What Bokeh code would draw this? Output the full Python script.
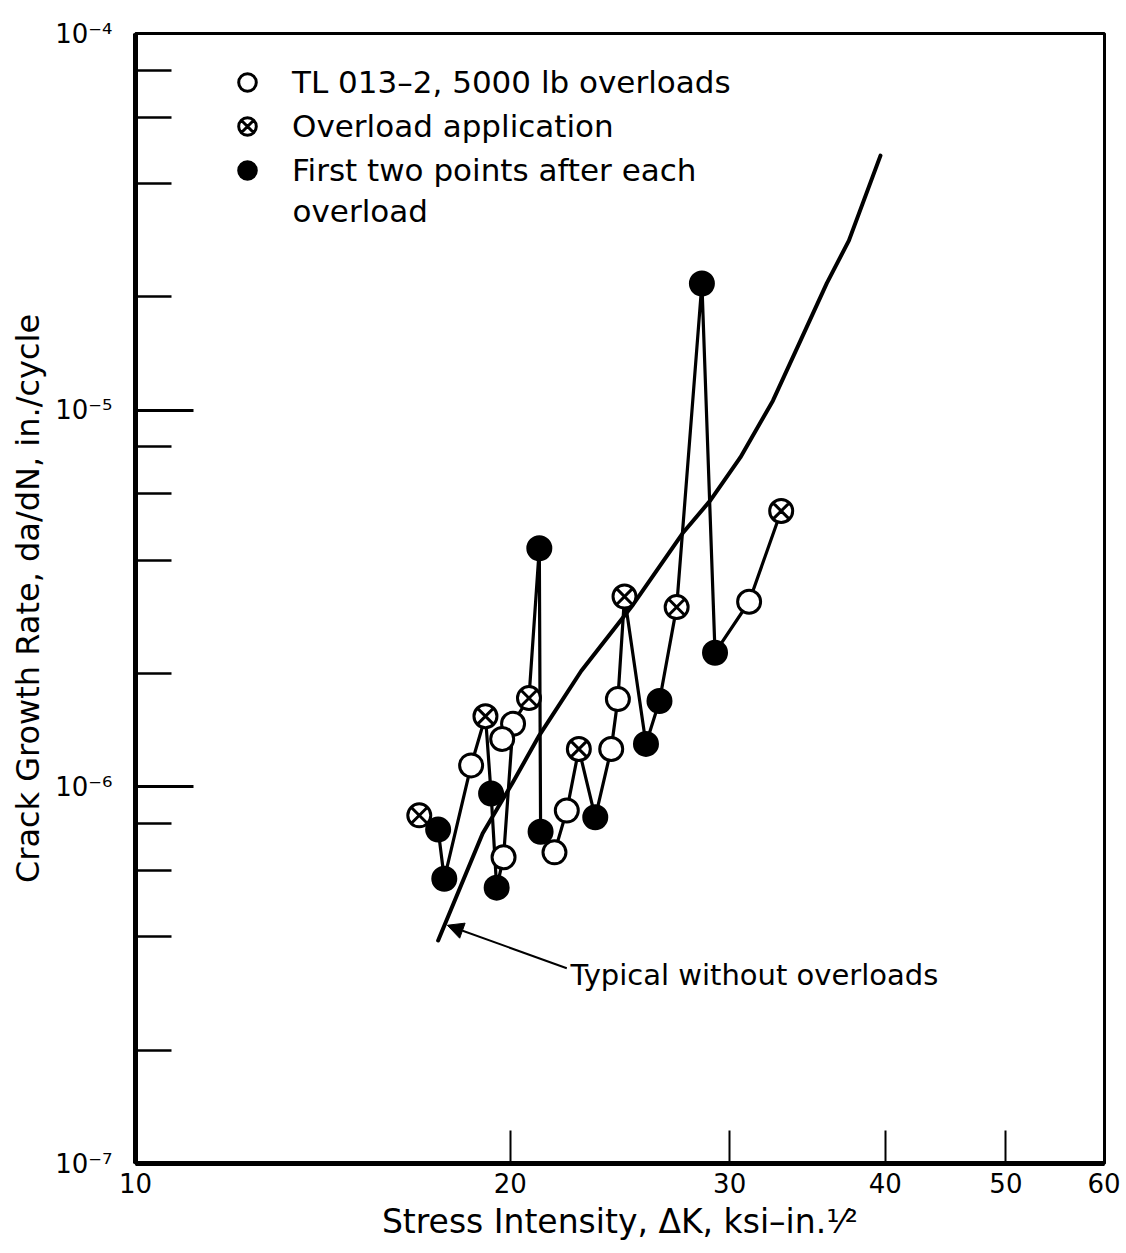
from bokeh.plotting import figure
from bokeh.models import (ColumnDataSource, FixedTicker, Label, Arrow, NormalHead,
                          Legend, LegendItem)
from bokeh.embed import file_html
from bokeh.resources import INLINE

FONT = "DejaVu Sans"

# ---- data ----
delta_k = [16.9, 17.5, 17.7, 18.6, 19.1, 19.3, 19.5, 19.75, 20.1, 19.7, 20.7, 21.1, 21.15,
           21.7, 22.2, 22.7, 23.4, 24.1, 24.4, 24.7, 25.7, 26.35, 27.2, 28.5, 29.2, 31.1, 33.0]
rate = [8.4e-7, 7.7e-7, 5.7e-7, 1.14e-6, 1.54e-6, 9.6e-7, 5.4e-7, 6.5e-7, 1.47e-6, 1.34e-6,
        1.72e-6, 4.3e-6, 7.6e-7, 6.7e-7, 8.65e-7, 1.26e-6, 8.3e-7, 1.26e-6, 1.71e-6, 3.2e-6,
        1.3e-6, 1.69e-6, 3.0e-6, 2.17e-5, 2.27e-6, 3.1e-6, 5.4e-6]
point_kind = ["overload", "after", "after", "base", "overload", "after", "after", "base",
              "base", "base", "overload", "after", "after", "base", "base", "overload",
              "after", "base", "base", "overload", "after", "after", "overload", "after",
              "after", "base", "overload"]

curve_k = [17.5, 19.0, 20.1, 21.1, 22.8, 25.1, 27.5, 28.95, 30.6, 32.5, 34.2, 35.9, 37.4, 39.65]
curve_rate = [3.91e-7, 7.52e-7, 1.03e-6, 1.37e-6, 2.03e-6, 3.05e-6, 4.71e-6, 5.76e-6, 7.49e-6,
              1.06e-5, 1.53e-5, 2.17e-5, 2.82e-5, 4.74e-5]

x_ticks = [10, 20, 30, 40, 50, 60]
x_tick_labels = ["10", "20", "30", "40", "50", "60"]
y_ticks = [1e-7, 1e-6, 1e-5, 1e-4]
y_tick_labels = ["10\u207b\u2077", "10\u207b\u2076", "10\u207b\u2075", "10\u207b\u2074"]
y_minor_ticks = [2e-7, 4e-7, 6e-7, 8e-7, 2e-6, 4e-6, 6e-6, 8e-6, 2e-5, 4e-5, 6e-5, 8e-5]

legend_labels = ["TL 013\u20132, 5000 lb overloads", "Overload application",
                 "First two points after each"]
legend_cont = "overload"
x_title = "Stress Intensity, \u0394K, ksi\u2013in.\u00b9\u2044\u00b2"
y_title = "Crack Growth Rate, da/dN, in./cycle"
curve_note = "Typical without overloads"

# ---- figure ----
p = figure(width=1120, height=1250, x_axis_type="log", y_axis_type="log",
           x_range=(10, 60), y_range=(1e-7, 1e-4),
           output_backend="svg", toolbar_location=None,
           min_border_left=135, min_border_top=33, min_border_right=16, min_border_bottom=87)
p.xgrid.visible = False
p.ygrid.visible = False
p.outline_line_color = "black"
p.outline_line_width = 3
p.background_fill_color = "white"
p.border_fill_color = "white"

xa = p.xaxis[0]
xa.ticker = FixedTicker(ticks=x_ticks, minor_ticks=[])
xa.major_label_overrides = {t: l for t, l in zip(x_ticks, x_tick_labels)}
xa.major_tick_in = 33
xa.major_tick_out = 0
xa.minor_tick_in = 0
xa.minor_tick_out = 0
xa.major_tick_line_width = 2
xa.axis_line_width = 5
xa.major_label_standoff = 9
xa.major_label_text_font = FONT
xa.major_label_text_font_size = "26px"
xa.major_label_text_color = "black"
xa.axis_label = x_title
xa.axis_label_text_font = FONT
xa.axis_label_text_font_size = "33px"
xa.axis_label_text_font_style = "normal"
xa.axis_label_text_color = "black"
xa.axis_label_standoff = 6

ya = p.yaxis[0]
ya.ticker = FixedTicker(ticks=y_ticks, minor_ticks=y_minor_ticks)
ya.major_label_overrides = {t: l for t, l in zip(y_ticks, y_tick_labels)}
ya.major_tick_in = 58
ya.major_tick_out = 0
ya.minor_tick_in = 36
ya.minor_tick_out = 0
ya.major_tick_line_width = 3
ya.minor_tick_line_width = 2.5
ya.axis_line_width = 5
ya.major_label_standoff = 23
ya.major_label_text_font = FONT
ya.major_label_text_font_size = "26px"
ya.major_label_text_color = "black"
ya.axis_label = y_title
ya.axis_label_text_font = FONT
ya.axis_label_text_font_size = "32px"
ya.axis_label_text_font_style = "normal"
ya.axis_label_text_color = "black"
ya.axis_label_standoff = 5

# ---- lines ----
p.line(delta_k, rate, line_color="black", line_width=3.2, line_join="round")
p.line(curve_k, curve_rate, line_color="black", line_width=4, line_join="round",
       line_cap="round")

def subset(kind):
    xs = [k for k, t in zip(delta_k, point_kind) if t == kind]
    ys = [r for r, t in zip(rate, point_kind) if t == kind]
    return ColumnDataSource(dict(x=xs, y=ys))

r_base = p.scatter("x", "y", source=subset("base"), marker="circle", size=23,
                   fill_color="white", line_color="black", line_width=3)
r_over = p.scatter("x", "y", source=subset("overload"), marker="circle_x", size=23,
                   fill_color="white", line_color="black", line_width=3)
r_after = p.scatter("x", "y", source=subset("after"), marker="circle", size=23,
                    fill_color="black", line_color="black", line_width=3)

legend = Legend(items=[LegendItem(label=legend_labels[0], renderers=[r_base]),
                       LegendItem(label=legend_labels[1], renderers=[r_over]),
                       LegendItem(label=legend_labels[2], renderers=[r_after])],
                location=(90, 971), orientation="vertical",
                glyph_width=44, glyph_height=44, spacing=0, padding=0, margin=0,
                label_standoff=23, label_height=30,
                label_text_font=FONT, label_text_font_size="31px", label_text_color="black",
                border_line_color=None, background_fill_alpha=0)
p.add_layout(legend)

p.add_layout(Label(x=157, y=953, x_units="screen", y_units="screen", text=legend_cont,
                   text_font=FONT, text_font_size="31px", text_color="black",
                   text_baseline="middle", text_align="left"))

# ---- annotation ----
p.add_layout(Arrow(end=NormalHead(size=16, fill_color="black", line_color="black"),
                   x_start=22.2, y_start=3.3e-7, x_end=17.8, y_end=4.29e-7,
                   line_color="black", line_width=2))
p.add_layout(Label(x=22.35, y=3.16e-7, text=curve_note, text_font=FONT,
                   text_font_size="29px", text_color="black",
                   text_baseline="middle", text_align="left"))

open("out.html", "w").write(file_html(p, INLINE))
